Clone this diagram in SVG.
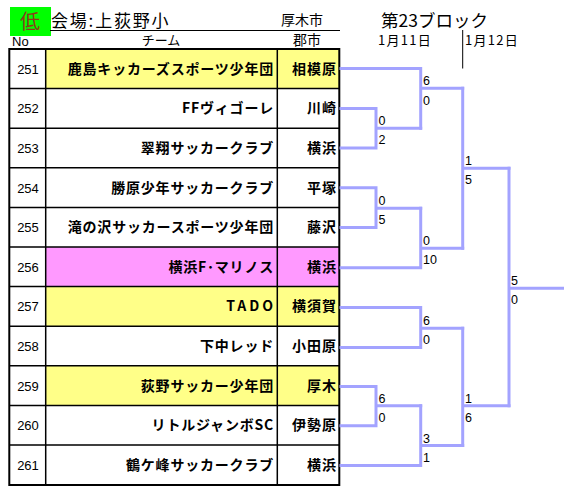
<svg xmlns="http://www.w3.org/2000/svg" width="564" height="497" viewBox="0 0 564 497">
<style>
.t{font-family:"Liberation Sans","Noto Sans CJK JP",sans-serif;fill:#000}
.jp{font-family:"Noto Sans CJK JP","Liberation Sans",sans-serif;fill:#000}
.no{font-size:13px;text-anchor:middle}
.team{font-size:14px;font-weight:bold;text-anchor:end;letter-spacing:0.8px}
.city{font-size:14px;font-weight:bold;text-anchor:end;letter-spacing:1px}
.sc{font-family:"Liberation Sans",sans-serif;font-size:12.5px;fill:#000}
.br{fill:none;stroke:#a3a3ff;stroke-width:3;stroke-linecap:square}
.grid{stroke:#000;stroke-width:1.5;fill:none}
.yel{fill:#ffff88}
.pink{fill:#ff99ff}
</style>
<rect width="564" height="497" fill="#fff"/>
<g id="header">
<rect x="10" y="7" width="41" height="29" fill="#00ff00"/>
<text class="jp" x="30" y="29" font-size="20" text-anchor="middle" style="fill:#8b3a1a">低</text>
<text class="jp" x="51" y="27" font-size="17" letter-spacing="1.8">会場:上荻野小</text>
<line x1="50" y1="30.5" x2="340" y2="30.5" stroke="#000" stroke-width="1.2"/>
<text class="jp" x="281" y="25" font-size="14">厚木市</text>
<text class="t" x="12" y="46" font-size="13">No</text>
<text class="jp" x="161" y="45" font-size="13" text-anchor="middle">チーム</text>
<text class="jp" x="293" y="45" font-size="14">郡市</text>
<text class="jp" x="381" y="27" font-size="17.5">第23ブロック</text>
<text class="jp" x="378" y="45" font-size="13" letter-spacing="1.3">1月11日</text>
<line x1="462.7" y1="30" x2="462.7" y2="68.5" stroke="#000" stroke-width="1"/>
<text class="jp" x="465" y="45" font-size="13" letter-spacing="1.3">1月12日</text>
</g>
<g id="table">
<rect class="yel" x="45.7" y="49" width="293.6" height="39.6"/>
<rect class="pink" x="45.7" y="247" width="293.6" height="39.6"/>
<rect class="yel" x="45.7" y="286.6" width="293.6" height="39.6"/>
<rect class="yel" x="45.7" y="365.8" width="293.6" height="39.6"/>
<path class="grid" d="M9.3 88.6H339.3M9.3 128.2H339.3M9.3 167.8H339.3M9.3 207.4H339.3M9.3 247H339.3M9.3 286.6H339.3M9.3 326.2H339.3M9.3 365.8H339.3M9.3 405.4H339.3M9.3 445H339.3M45.7 49V485M277.3 49V485"/>
<rect x="9.3" y="49" width="330" height="436" fill="none" stroke="#000" stroke-width="2"/>
</g>
<g id="team251"><text class="t no" x="28" y="73.8">251</text><text class="jp team" x="274" y="73.8">鹿島キッカーズスポーツ少年団</text><text class="jp city" x="337" y="73.8">相模原</text></g>
<g id="team252"><text class="t no" x="28" y="113.4">252</text><text class="jp team" x="274" y="113.4">FFヴィゴーレ</text><text class="jp city" x="337" y="113.4">川崎</text></g>
<g id="team253"><text class="t no" x="28" y="153">253</text><text class="jp team" x="274" y="153">翠翔サッカークラブ</text><text class="jp city" x="337" y="153">横浜</text></g>
<g id="team254"><text class="t no" x="28" y="192.6">254</text><text class="jp team" x="274" y="192.6">勝原少年サッカークラブ</text><text class="jp city" x="337" y="192.6">平塚</text></g>
<g id="team255"><text class="t no" x="28" y="232.2">255</text><text class="jp team" x="274" y="232.2">滝の沢サッカースポーツ少年団</text><text class="jp city" x="337" y="232.2">藤沢</text></g>
<g id="team256"><text class="t no" x="28" y="271.8">256</text><text class="jp team" x="274" y="271.8">横浜F･マリノス</text><text class="jp city" x="337" y="271.8">横浜</text></g>
<g id="team257"><text class="t no" x="28" y="311.4">257</text><text class="jp team" x="276" y="311.4" style="letter-spacing:3px">TADO</text><text class="jp city" x="337" y="311.4">横須賀</text></g>
<g id="team258"><text class="t no" x="28" y="351">258</text><text class="jp team" x="274" y="351">下中レッド</text><text class="jp city" x="337" y="351">小田原</text></g>
<g id="team259"><text class="t no" x="28" y="390.6">259</text><text class="jp team" x="274" y="390.6">荻野サッカー少年団</text><text class="jp city" x="337" y="390.6">厚木</text></g>
<g id="team260"><text class="t no" x="28" y="430.2">260</text><text class="jp team" x="274" y="430.2">リトルジャンボSC</text><text class="jp city" x="337" y="430.2">伊勢原</text></g>
<g id="team261"><text class="t no" x="28" y="469.8">261</text><text class="jp team" x="274" y="469.8">鶴ケ峰サッカークラブ</text><text class="jp city" x="337" y="469.8">横浜</text></g>
<g id="connectors">
<path class="br" d="M341 108.4H376V148H341M376 128.3H420.7"/>
<path class="br" d="M341 68.6H420.7V128.3M420.7 88.3H462.7"/>
<path class="br" d="M341 187.8H376V227.6H341M376 208.2H420.7"/>
<path class="br" d="M341 267.8H420.7V208.2M420.7 248.2H462.7"/>
<path class="br" d="M462.7 88.3V248.2M462.7 168.3H509"/>
<path class="br" d="M341 307.6H420.7V347.6H341M420.7 328.2H462.7"/>
<path class="br" d="M341 386.5H376V425.8H341M376 405.7H420.7"/>
<path class="br" d="M341 465.6H420.7V405.7M420.7 445.6H462.7"/>
<path class="br" d="M462.7 328.2V445.6M462.7 405.7H509"/>
<path class="br" d="M509 168.3V405.7M509 288.3H566"/>
</g>
<g id="scores">
<text class="sc" x="378.5" y="125">0</text><text class="sc" x="378.5" y="144">2</text>
<text class="sc" x="423" y="85">6</text><text class="sc" x="423" y="104.5">0</text>
<text class="sc" x="378.5" y="205">0</text><text class="sc" x="378.5" y="224">5</text>
<text class="sc" x="423" y="245">0</text><text class="sc" x="423" y="264">10</text>
<text class="sc" x="465" y="165">1</text><text class="sc" x="465" y="184">5</text>
<text class="sc" x="511" y="285">5</text><text class="sc" x="511" y="304">0</text>
<text class="sc" x="423" y="325">6</text><text class="sc" x="423" y="344">0</text>
<text class="sc" x="378.5" y="402.5">6</text><text class="sc" x="378.5" y="421.5">0</text>
<text class="sc" x="423" y="442.5">3</text><text class="sc" x="423" y="461.5">1</text>
<text class="sc" x="465" y="402.5">1</text><text class="sc" x="465" y="421.5">6</text>
</g>
</svg>
